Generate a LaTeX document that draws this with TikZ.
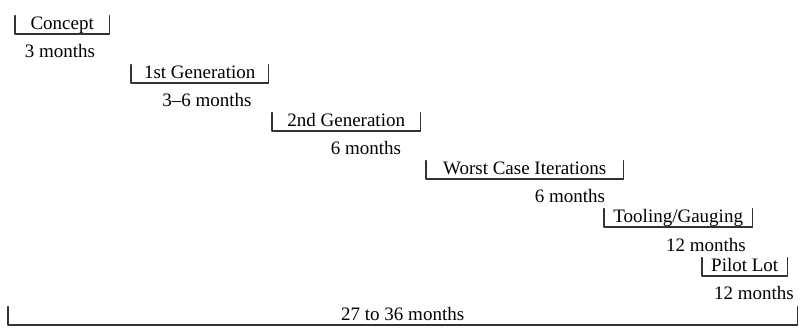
\documentclass[tikz,border=0pt]{standalone}
\usepackage{fontspec}
\setmainfont{LiberationSerif-Regular.ttf}
\begin{document}
\begin{tikzpicture}[x=1pt, y=-1pt, line cap=round, line join=round,
    phase/.style={inner sep=0pt, anchor=south west, text height=14pt, text depth=4pt, font=\rmfamily\fontsize{19}{22}\selectfont},
    span/.style={inner sep=0pt, anchor=base, font=\rmfamily\fontsize{19}{22}\selectfont}]
    \useasboundingbox (0,0) rectangle (802,329);
    % phases, each under its own bracket
    \node[phase, minimum width=94pt] (concept) at (15,34) {Concept};
    \node[phase, minimum width=137pt] (gen1) at (131,83) {1st Generation};
    \node[phase, minimum width=148pt] (gen2) at (272,131) {2nd Generation};
    \node[phase, minimum width=197pt] (worst) at (426,179) {Worst Case Iterations};
    \node[phase, minimum width=148pt] (tooling) at (604,227) {Tooling/Gauging};
    \node[phase, minimum width=85pt] (pilot) at (702,276) {Pilot Lot};
    \node[phase, minimum width=789pt] (total) at (8,325) {27 to 36 months};
    \foreach \p in {concept,gen1,gen2,worst,tooling,pilot,total}
      \draw[line width=1.1pt, black!80] (\p.north west) |- (\p.south east) -- (\p.north east);
    % durations
    \node[span] (dconcept) at (60,57) {3 months};
    \node[span] (dgen1) at (207,106) {3--6 months};
    \node[span] (dgen2) at (366,154) {6 months};
    \node[span] (dworst) at (570,202) {6 months};
    \node[span] (dtooling) at (706,251) {12 months};
    \node[span] (dpilot) at (754,299) {12 months};
\end{tikzpicture}
\end{document}
